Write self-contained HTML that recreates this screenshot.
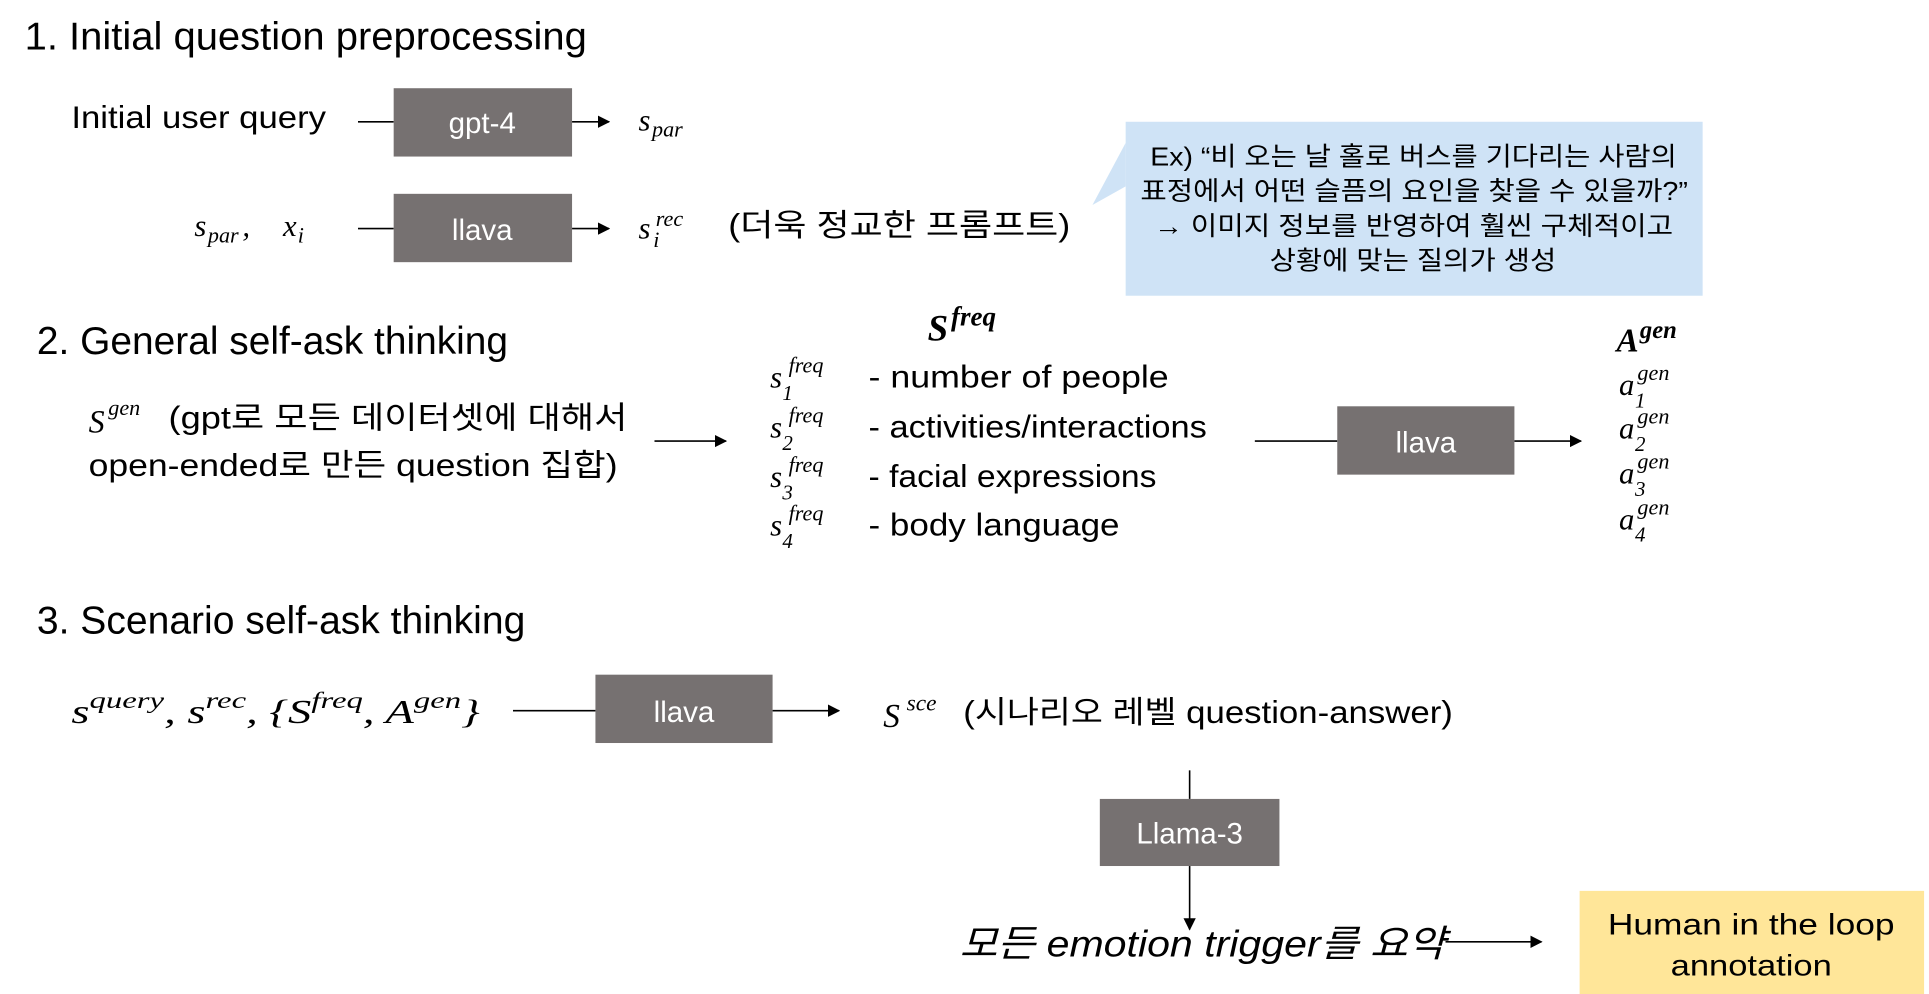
<!DOCTYPE html>
<html><head><meta charset="utf-8"><style>
html,body{margin:0;padding:0;background:#fff;}
svg{display:block;}
text{font-family:"Liberation Sans","Noto Sans CJK KR",sans-serif;fill:#000;}
.m{font-family:"Liberation Serif","Noto Serif CJK SC",serif;font-style:italic;}
.bx{fill:#767171;}
.wt{fill:#fff;font-size:24px;}
</style></head><body>
<svg width="1929" height="994" viewBox="0 0 1568 800" preserveAspectRatio="none" xmlns="http://www.w3.org/2000/svg">
<defs><marker id="a" markerWidth="10" markerHeight="10" refX="9" refY="5" orient="auto" markerUnits="userSpaceOnUse"><path d="M0,0 L10,5 L0,10 z" fill="#000"/></marker></defs>
<g stroke="#000" stroke-width="1.3" fill="none">
<line x1="291" y1="98" x2="320" y2="98"/><line x1="465" y1="98" x2="495" y2="98" marker-end="url(#a)"/>
<line x1="291" y1="184" x2="320" y2="184"/><line x1="465" y1="184" x2="495" y2="184" marker-end="url(#a)"/>
<line x1="532" y1="355" x2="590" y2="355" marker-end="url(#a)"/>
<line x1="1020" y1="355" x2="1087" y2="355"/><line x1="1231" y1="355" x2="1285" y2="355" marker-end="url(#a)"/>
<line x1="417" y1="572" x2="484" y2="572"/><line x1="628" y1="572" x2="682" y2="572" marker-end="url(#a)"/>
<line x1="967" y1="620" x2="967" y2="643"/><line x1="967" y1="697" x2="967" y2="748" marker-end="url(#a)"/>
<line x1="1175" y1="758" x2="1253" y2="758" marker-end="url(#a)"/>
</g>
<text x="20" y="40" font-size="31" textLength="457" lengthAdjust="spacingAndGlyphs">1. Initial question preprocessing</text>
<text x="58" y="103" font-size="25" textLength="207" lengthAdjust="spacingAndGlyphs">Initial  user  query</text>
<rect class="bx" x="320" y="71" width="145" height="55"/><text class="wt" x="392" y="107" text-anchor="middle">gpt-4</text>
<text class="m" x="519" y="105" font-size="25">s</text><text class="m" x="530" y="110" font-size="18">par</text>
<text class="m" x="158" y="190" font-size="25">s</text><text class="m" x="169" y="195" font-size="18">par</text><text class="m" x="197" y="190" font-size="25">,</text><text class="m" x="230" y="190" font-size="25">x</text><text class="m" x="242" y="195" font-size="18">i</text>
<rect class="bx" x="320" y="156" width="145" height="55"/><text class="wt" x="392" y="193" text-anchor="middle">llava</text>
<text class="m" x="519" y="192" font-size="25">s</text><text class="m" x="533" y="182" font-size="18">rec</text><text class="m" x="531" y="199" font-size="18">i</text>
<text x="592" y="190" font-size="25" textLength="278" lengthAdjust="spacingAndGlyphs">(더욱 정교한 프롬프트)</text>
<polygon points="915,115 888,165 915,150" fill="#cfe3f6"/>
<rect x="915" y="98" width="469" height="140" fill="#cfe3f6"/>
<g font-size="21">
<text x="935" y="133" textLength="428" lengthAdjust="spacingAndGlyphs">Ex) “비 오는 날 홀로 버스를 기다리는 사람의</text>
<text x="927" y="161" textLength="445" lengthAdjust="spacingAndGlyphs">표정에서 어떤 슬픔의 요인을 찾을 수 있을까?”</text>
<text x="938" y="189" textLength="422" lengthAdjust="spacingAndGlyphs">→ 이미지 정보를 반영하여 훨씬 구체적이고</text>
<text x="1032" y="217" textLength="233" lengthAdjust="spacingAndGlyphs">상황에 맞는 질의가 생성</text>
</g>
<text x="30" y="285" font-size="31" textLength="383" lengthAdjust="spacingAndGlyphs">2. General self-ask thinking</text>
<text class="m" x="754" y="274" font-size="30" font-weight="bold">S</text><text class="m" x="773" y="262" font-size="22" font-weight="bold">freq</text>
<g class="m">
<text class="m" x="626" y="312" font-size="25">s</text><text class="m" x="641" y="300" font-size="18">freq</text><text class="m" x="636" y="322" font-size="17" font-style="normal">1</text>
<text class="m" x="626" y="352" font-size="25">s</text><text class="m" x="641" y="340" font-size="18">freq</text><text class="m" x="636" y="362" font-size="17" font-style="normal">2</text>
<text class="m" x="626" y="392" font-size="25">s</text><text class="m" x="641" y="380" font-size="18">freq</text><text class="m" x="636" y="402" font-size="17" font-style="normal">3</text>
<text class="m" x="626" y="431" font-size="25">s</text><text class="m" x="641" y="419" font-size="18">freq</text><text class="m" x="636" y="441" font-size="17" font-style="normal">4</text>
</g>
<g font-size="25">
<text x="706" y="312" textLength="244" lengthAdjust="spacingAndGlyphs">-  number  of  people</text>
<text x="706" y="352" textLength="275" lengthAdjust="spacingAndGlyphs">-  activities/interactions</text>
<text x="706" y="392" textLength="234" lengthAdjust="spacingAndGlyphs">-  facial  expressions</text>
<text x="706" y="431" textLength="204" lengthAdjust="spacingAndGlyphs">-  body  language</text>
<text class="m" x="72" y="348" font-size="26">S</text><text class="m" x="88" y="334" font-size="18">gen</text>
<text x="137" y="345" textLength="373" lengthAdjust="spacingAndGlyphs">(gpt로 모든 데이터셋에 대해서</text>
<text x="72" y="383" textLength="430" lengthAdjust="spacingAndGlyphs">open-ended로 만든 question 집합)</text>
</g>
<rect class="bx" x="1087" y="327" width="144" height="55"/><text class="wt" x="1159" y="364" text-anchor="middle">llava</text>
<text class="m" x="1314" y="283" font-size="27" font-weight="bold">A</text><text class="m" x="1333" y="272" font-size="20" font-weight="bold">gen</text>
<g>
<text class="m" x="1316" y="318" font-size="25">a</text><text class="m" x="1331" y="306" font-size="18">gen</text><text class="m" x="1329" y="328" font-size="17" font-style="normal">1</text>
<text class="m" x="1316" y="353" font-size="25">a</text><text class="m" x="1331" y="341" font-size="18">gen</text><text class="m" x="1329" y="363" font-size="17" font-style="normal">2</text>
<text class="m" x="1316" y="389" font-size="25">a</text><text class="m" x="1331" y="377" font-size="18">gen</text><text class="m" x="1329" y="399" font-size="17" font-style="normal">3</text>
<text class="m" x="1316" y="426" font-size="25">a</text><text class="m" x="1331" y="414" font-size="18">gen</text><text class="m" x="1329" y="436" font-size="17" font-style="normal">4</text>
</g>
<text x="30" y="510" font-size="31" textLength="397" lengthAdjust="spacingAndGlyphs">3. Scenario self-ask thinking</text>
<text class="m" x="58" y="582" font-size="27" textLength="332" lengthAdjust="spacingAndGlyphs">s<tspan font-size="19" dy="-12">query</tspan><tspan dy="12">, s</tspan><tspan font-size="19" dy="-12">rec</tspan><tspan dy="12">, {S</tspan><tspan font-size="19" dy="-12">freq</tspan><tspan dy="12">, A</tspan><tspan font-size="19" dy="-12">gen</tspan><tspan dy="12">}</tspan></text>
<rect class="bx" x="484" y="543" width="144" height="55"/><text class="wt" x="556" y="581" text-anchor="middle">llava</text>
<text class="m" x="718" y="585" font-size="27">S</text><text class="m" x="737" y="572" font-size="19">sce</text>
<text x="783" y="582" font-size="25" textLength="398" lengthAdjust="spacingAndGlyphs">(시나리오 레벨 question-answer)</text>
<rect class="bx" x="894" y="643" width="146" height="54"/><text class="wt" x="967" y="679" text-anchor="middle">Llama-3</text>
<text x="780" y="770" font-size="30" font-style="italic" textLength="395" lengthAdjust="spacingAndGlyphs">모든 emotion trigger를 요약</text>
<rect x="1284" y="717" width="280" height="83" fill="#ffe699"/>
<text x="1307" y="752" font-size="24" textLength="233" lengthAdjust="spacingAndGlyphs">Human in the loop</text>
<text x="1358" y="785" font-size="24" textLength="131" lengthAdjust="spacingAndGlyphs">annotation</text>
</svg>
</body></html>
